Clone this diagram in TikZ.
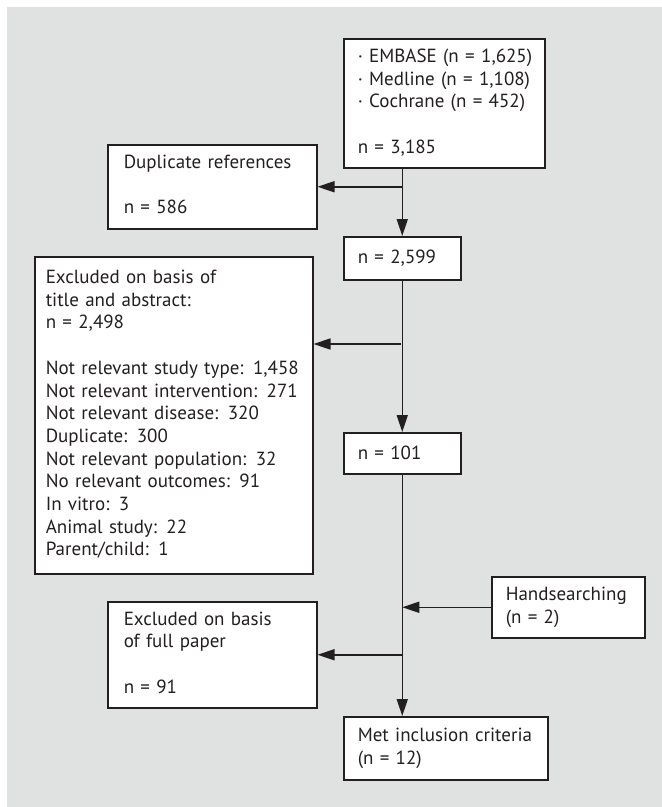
\documentclass[tikz,border=0pt]{standalone}
\usepackage{fontspec}
\setmainfont{PT Sans}
\usetikzlibrary{arrows.meta}
\definecolor{bggray}{RGB}{224,225,225}
\definecolor{ink}{RGB}{35,31,32}
\newcommand{\boxlines}[1]{\begin{tabular}{@{}l@{}}#1\end{tabular}}

\begin{document}
\begin{tikzpicture}[x=1pt,y=-1pt,
    box/.style={draw=ink, fill=white, line width=1.5pt, rectangle, anchor=north west,
      align=left, inner xsep=14pt, inner ysep=0pt, text=ink,
      font=\fontsize{19}{22.7}\selectfont},
    arr/.style={draw=ink, line width=1.5pt, -{Triangle[length=17pt,width=11pt]}}]

      % Definitions
      \def\gap{22.7pt}   % Height of an empty line inside a box
      \def\lx{401}       % x of the main vertical line

      % Background
      \useasboundingbox (0,0) rectangle (662,807);
      \fill [bggray] (6.5,7) rectangle (662,807);

      % Boxes
      \node [box, text width=173pt, minimum height=129pt] (src) at (343,38)
        {\boxlines{· EMBASE (n = 1,625)\\ · Medline (n = 1,108)\\ · Cochrane (n = 452)\\[\gap] n = 3,185}};
      \node [box, text width=177pt, minimum height=84pt, inner xsep=16pt] (dup) at (107,144)
        {\boxlines{Duplicate references\\[\gap] n = 586}};
      \node [box, text width=89pt, minimum height=43pt] (n2599) at (343,236) {n = 2,599};
      \node [box, text width=256pt, minimum height=317pt, inner xsep=11pt] (extitle) at (34,256)
        {\boxlines{Excluded on basis of\\ title and abstract:\\ n = 2,498\\[\gap]
         Not relevant study type: 1,458\\ Not relevant intervention: 271\\
         Not relevant disease: 320\\ Duplicate: 300\\ Not relevant population: 32\\
         No relevant outcomes: 91\\ In vitro: 3\\ Animal study: 22\\ Parent/child: 1}};
      \node [box, text width=89pt, minimum height=41pt] (n101) at (343,432) {n = 101};
      \node [box, text width=125pt, minimum height=61pt] (hand) at (491,576)
        {\boxlines{Handsearching\\ (n = 2)}};
      \node [box, text width=177pt, minimum height=106pt, inner xsep=16pt] (full) at (107,601)
        {\boxlines{Excluded on basis\\ of full paper\\[\gap] n = 91}};
      \node [box, text width=176pt, minimum height=63pt] (met) at (343,716)
        {\boxlines{Met inclusion criteria\\ (n = 12)}};

      % Branch points on the main line
      \coordinate (exA) at (\lx,344);

      % Connectors
      \draw [arr] (n2599.north |- src.south) -- (n2599.north);
      \draw [arr] (dup.east -| n2599.north) -- (dup.east);
      \draw [arr] (n2599) -- (n101);
      \draw [arr] (exA) -- (exA -| extitle.east);
      \draw [arr] (n101.south) -- (n101.south |- met.north);
      \draw [arr] (hand.west) -- (hand.west -| n101.south);
      \draw [arr] (full.east -| n101.south) -- (full.east);

\end{tikzpicture}
\end{document}
